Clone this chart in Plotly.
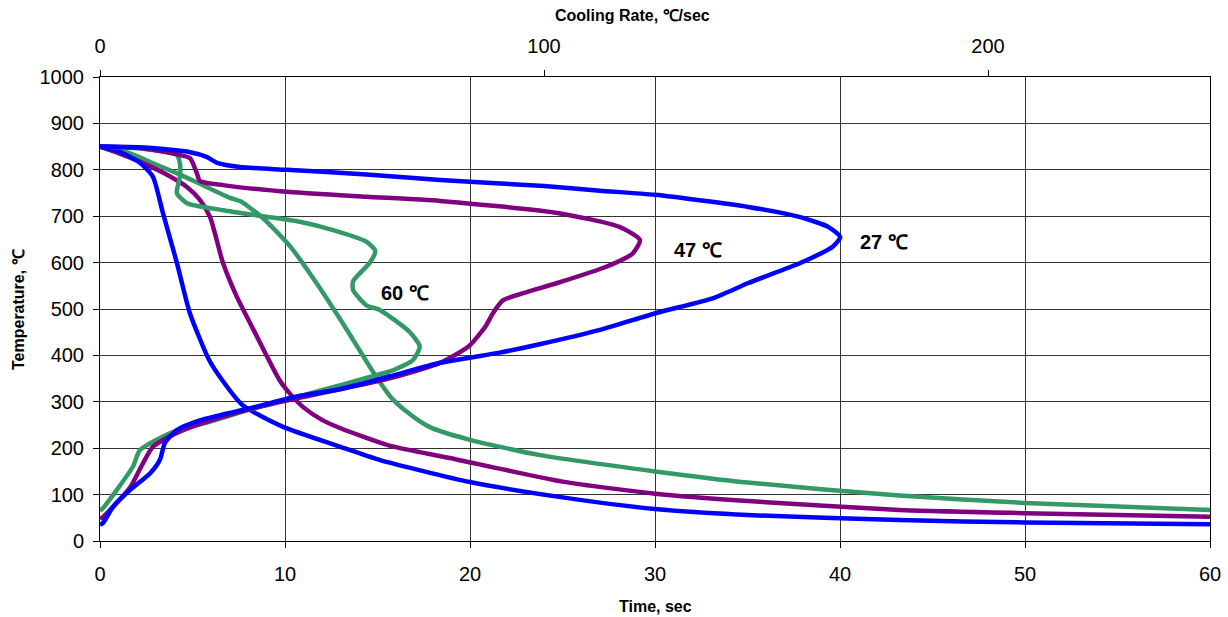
import plotly.graph_objects as go

# ---- Cooling curves: temperature vs time (bottom axis) ----
t_27 = [0, 1, 2.16, 2.86, 3.4, 4.16, 4.86, 5.9, 6.6, 7.7, 9.9, 13, 15.1, 20, 25, 30, 35, 43.2, 50, 60]
T_27 = [850, 840, 815, 785, 707, 599, 491, 390, 347, 293, 246, 203, 175, 127, 94, 69, 56, 45, 40, 36]

t_47 = [0, 1, 2.3, 3.5, 4.7, 5.4, 5.95, 6.65, 7.4, 8.3, 9.7, 10.3, 11, 12, 13, 15.7, 18.9, 25, 30, 35, 43.2, 50, 60]
T_47 = [850, 836, 815, 792, 763, 735, 698, 599, 526, 455, 347, 316, 288, 261, 243, 205, 179, 128, 102, 86, 67, 60, 52]

t_60 = [0, 1.44, 3, 4.3, 5.4, 7.0, 7.6, 8.8, 10.3, 11.7, 13.3, 14.8, 15.7, 16.6, 17.8, 20, 23.8, 30, 35, 43.2, 50, 60]
T_60 = [850, 838, 812, 790, 770, 740, 732, 696, 634, 556, 458, 362, 311, 278, 246, 218, 185, 150, 126, 98, 82, 67]

# ---- Cooling-rate curves: temperature vs cooling rate (top axis) ----
r_27 = [0, 10, 20.3, 24, 26.4, 31.5, 42, 60, 76.6, 100, 112.6, 125, 146, 157.7, 164, 166.7, 165, 157.7, 146, 138,
        125.5, 112.6, 99, 90, 76.6, 65.3, 54, 45, 35, 22.5, 17.3, 14.6, 13.5, 11.3, 6.8, 2.9, 0.7, 0]
Tr_27 = [850, 848, 838, 828, 815, 806, 800, 790, 778, 765, 755, 746, 720, 698, 677, 655, 634, 599, 556, 523,
         492, 455, 424, 406, 384, 355, 327, 313, 289, 260, 239, 211, 175, 146, 110, 73, 39, 35]

r_47 = [0, 10, 18, 20.3, 21.8, 22.5, 27.7, 42.8, 60, 76.6, 103, 117, 121.6, 120, 114, 103, 95.3, 90.8, 88.5, 87,
        86, 83, 76.6, 65, 46.6, 35, 25, 17.3, 11.9, 9.7, 6.8, 0.7, 0]
Tr_47 = [850, 846, 832, 825, 793, 776, 767, 752, 742, 733, 707, 677, 649, 620, 591, 556, 534, 519, 491, 465,
         452, 419, 384, 350, 312, 287, 260, 233, 203, 168, 116, 52, 48]

r_60 = [0, 10, 17.3, 18, 18, 17.3, 19.6, 27.7, 36.7, 45, 52.5, 60, 62, 60.8, 57, 57, 60, 63, 69.8, 72, 70.5, 66,
        62.4, 55, 45, 35, 25, 16.4, 9, 7.4, 0.7, 0]
Tr_60 = [850, 845, 832, 814, 784, 750, 728, 713, 700, 688, 670, 645, 625, 600, 560, 541, 508, 498, 450, 419, 390, 368,
         358, 338, 312, 287, 258, 235, 196, 160, 71, 65]

labels = ["27 ℃", "47 ℃", "60 ℃"]
label_t = [42.4, 32.3, 16.5]
label_T = [644, 627, 534]

col_27 = "#0000FF"
col_47 = "#800080"
col_60 = "#339966"

FONT = "Liberation Sans, Arial, Helvetica, sans-serif"

fig = go.Figure()
lw = 4.5
for t, T, c in [(t_60, T_60, col_60), (t_47, T_47, col_47), (t_27, T_27, col_27)]:
    fig.add_trace(go.Scatter(x=t, y=T, mode="lines", line=dict(color=c, width=lw, shape="spline", smoothing=0.6),
                             xaxis="x", yaxis="y", showlegend=False, hoverinfo="skip"))
for r, T, c in [(r_60, Tr_60, col_60), (r_47, Tr_47, col_47), (r_27, Tr_27, col_27)]:
    fig.add_trace(go.Scatter(x=r, y=T, mode="lines", line=dict(color=c, width=lw, shape="spline", smoothing=0.6),
                             xaxis="x2", yaxis="y", showlegend=False, hoverinfo="skip"))

for txt, x, y in zip(labels, label_t, label_T):
    fig.add_annotation(x=x, y=y, xref="x", yref="y", text="<b>" + txt + "</b>", showarrow=False,
                       xanchor="center", yanchor="middle",
                       font=dict(size=20, color="black", family=FONT))

fig.add_annotation(x=(655 - 100) / 1110, y=-(606 - 541) / 464, xref="paper", yref="paper",
                   text="<b>Time, sec</b>", showarrow=False, xanchor="center", yanchor="middle",
                   font=dict(size=16, color="black", family=FONT))
fig.add_annotation(x=(632 - 100) / 1110, y=1 + (77 - 15) / 464, xref="paper", yref="paper",
                   text="<b>Cooling Rate, ℃/sec</b>", showarrow=False, xanchor="center", yanchor="middle",
                   font=dict(size=16, color="black", family=FONT))
fig.add_annotation(x=-(100 - 18) / 1110, y=(541 - 310) / 464, xref="paper", yref="paper",
                   text="<b>Temperature, ℃</b>", textangle=-90, showarrow=False,
                   xanchor="center", yanchor="middle",
                   font=dict(size=16, color="black", family=FONT))

grid = "#333333"
fig.update_layout(
    width=1228, height=617,
    margin=dict(l=100, r=18, t=77, b=76, autoexpand=False),
    paper_bgcolor="white", plot_bgcolor="white",
    font=dict(family=FONT, color="black"),
    xaxis=dict(range=[0, 60], dtick=10, showgrid=True, gridcolor=grid, gridwidth=1, automargin=False,
               showline=True, linecolor="black", linewidth=1, ticks="outside", ticklen=6, tickcolor="black",
               tickfont=dict(size=20), ticklabelstandoff=9, zeroline=False, mirror=False),
    xaxis2=dict(range=[0, 250], tickvals=[0, 100, 200], overlaying="x", side="top", showgrid=False,
                automargin=False,
                showline=True, linecolor="black", linewidth=1, ticks="outside", ticklen=6, tickcolor="black",
                tickfont=dict(size=20), ticklabelstandoff=9, zeroline=False),
    yaxis=dict(range=[0, 1000], dtick=100, showgrid=True, gridcolor=grid, gridwidth=1, automargin=False,
               showline=True, linecolor="black", linewidth=1, mirror=True, ticks="outside", ticklen=6,
               tickcolor="black", tickfont=dict(size=20), ticklabelstandoff=5, zeroline=False),
)

fig.write_html("out.html")
